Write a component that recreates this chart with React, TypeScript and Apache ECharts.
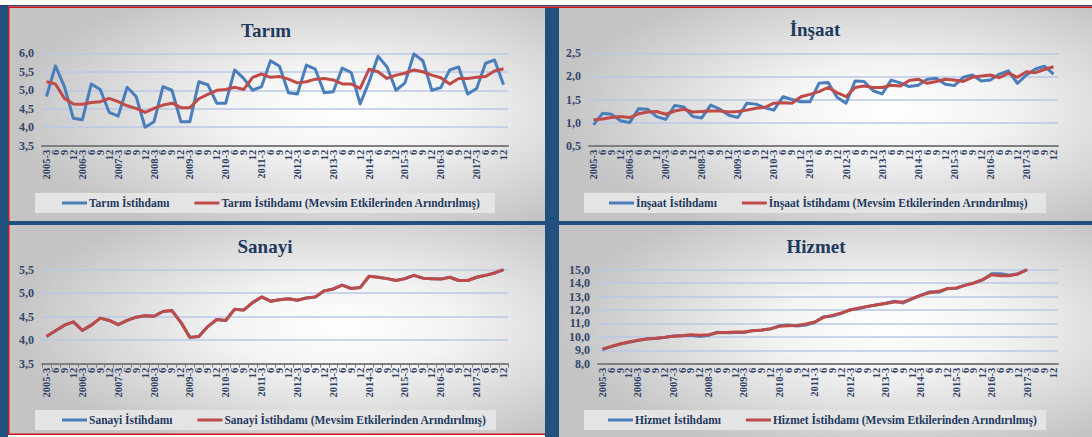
import React, { useEffect, useRef } from "react";
import * as echarts from "echarts";

const years = ["2005", "2006", "2007", "2008", "2009", "2010", "2011", "2012", "2013", "2014", "2015", "2016", "2017"];
const months = ["3", "6", "9", "12"];
const categories = years.flatMap((y) => months.map((m, i) => (i === 0 ? `${y}-${m}` : m)));

const tarimIstihdam = [4.83, 5.66, 5.1, 4.24, 4.2, 5.17, 5.02, 4.4, 4.3, 5.08, 4.83, 4.0, 4.15, 5.1, 5.0, 4.15, 4.15, 5.23, 5.15, 4.65, 4.65, 5.55, 5.32, 5.0, 5.1, 5.8, 5.65, 4.93, 4.9, 5.68, 5.57, 4.93, 4.96, 5.6, 5.48, 4.63, 5.23, 5.92, 5.63, 5.0, 5.2, 5.98, 5.8, 5.0, 5.07, 5.55, 5.63, 4.9, 5.05, 5.73, 5.82, 5.15];
const tarimMevsim = [5.23, 5.17, 4.78, 4.63, 4.62, 4.67, 4.69, 4.78, 4.69, 4.58, 4.51, 4.4, 4.51, 4.6, 4.65, 4.53, 4.53, 4.77, 4.89, 5.0, 5.02, 5.08, 5.02, 5.35, 5.44, 5.35, 5.37, 5.3, 5.2, 5.23, 5.3, 5.32, 5.28, 5.17, 5.17, 5.05, 5.57, 5.5, 5.32, 5.41, 5.46, 5.55, 5.5, 5.41, 5.34, 5.17, 5.32, 5.32, 5.35, 5.37, 5.52, 5.58];

const insaatIstihdam = [0.95, 1.2, 1.18, 1.04, 1.0, 1.3, 1.29, 1.13, 1.07, 1.37, 1.34, 1.13, 1.1, 1.38, 1.29, 1.16, 1.11, 1.42, 1.4, 1.32, 1.27, 1.56, 1.5, 1.45, 1.45, 1.85, 1.87, 1.55, 1.42, 1.9, 1.89, 1.69, 1.62, 1.92, 1.86, 1.78, 1.81, 1.94, 1.96, 1.83, 1.8, 1.98, 2.03, 1.9, 1.92, 2.05, 2.12, 1.85, 2.03, 2.16, 2.22, 2.05];
const insaatMevsim = [1.06, 1.08, 1.11, 1.13, 1.11, 1.19, 1.23, 1.24, 1.18, 1.25, 1.29, 1.23, 1.24, 1.25, 1.25, 1.23, 1.24, 1.27, 1.31, 1.33, 1.42, 1.43, 1.42, 1.56, 1.61, 1.67, 1.76, 1.65, 1.56, 1.76, 1.79, 1.76, 1.76, 1.81, 1.79, 1.91, 1.94, 1.85, 1.89, 1.94, 1.92, 1.89, 1.98, 2.01, 2.03, 1.97, 2.07, 1.98, 2.1, 2.08, 2.15, 2.21];

const sanayiIstihdam = [4.08, 4.2, 4.32, 4.39, 4.21, 4.32, 4.47, 4.42, 4.33, 4.42, 4.49, 4.52, 4.51, 4.61, 4.63, 4.38, 4.06, 4.08, 4.29, 4.44, 4.42, 4.66, 4.64, 4.8, 4.92, 4.83, 4.86, 4.88, 4.85, 4.9, 4.92, 5.05, 5.09, 5.17, 5.1, 5.12, 5.36, 5.34, 5.31, 5.27, 5.31, 5.38, 5.32, 5.31, 5.3, 5.34, 5.27, 5.27, 5.34, 5.38, 5.43, 5.5];
const sanayiMevsim = [4.08, 4.2, 4.32, 4.39, 4.21, 4.32, 4.47, 4.42, 4.33, 4.42, 4.49, 4.52, 4.51, 4.61, 4.63, 4.38, 4.06, 4.08, 4.29, 4.44, 4.42, 4.66, 4.64, 4.8, 4.92, 4.83, 4.86, 4.88, 4.85, 4.9, 4.92, 5.05, 5.09, 5.17, 5.1, 5.12, 5.36, 5.34, 5.31, 5.27, 5.31, 5.38, 5.32, 5.31, 5.3, 5.34, 5.27, 5.27, 5.34, 5.38, 5.43, 5.5];

const hizmetIstihdam = [9.05, 9.27, 9.47, 9.6, 9.72, 9.85, 9.87, 9.95, 10.06, 10.1, 10.12, 10.02, 10.12, 10.35, 10.3, 10.33, 10.32, 10.48, 10.5, 10.58, 10.82, 10.88, 10.8, 10.88, 11.08, 11.5, 11.55, 11.75, 12.02, 12.1, 12.27, 12.37, 12.5, 12.65, 12.52, 12.82, 13.1, 13.35, 13.32, 13.6, 13.62, 13.85, 14.02, 14.25, 14.7, 14.7, 14.58, 14.7, 15.0];
const hizmetMevsim = [9.09, 9.29, 9.47, 9.61, 9.74, 9.84, 9.89, 9.96, 10.04, 10.09, 10.16, 10.11, 10.16, 10.31, 10.33, 10.36, 10.36, 10.46, 10.51, 10.61, 10.78, 10.83, 10.85, 10.95, 11.1, 11.45, 11.6, 11.77, 12.0, 12.15, 12.27, 12.39, 12.49, 12.59, 12.59, 12.84, 13.09, 13.29, 13.39, 13.59, 13.64, 13.83, 14.01, 14.26, 14.63, 14.55, 14.55, 14.68, 15.0];

const sectors = ["Tarım", "İnşaat", "Sanayi", "Hizmet"];
const yMins = [3.5, 0.5, 3.5, 8];
const yMaxs = [6, 2.5, 5.5, 15];
const yIntervals = [0.5, 0.5, 0.5, 1];
const blueData = [tarimIstihdam, insaatIstihdam, sanayiIstihdam, hizmetIstihdam];
const redData = [tarimMevsim, insaatMevsim, sanayiMevsim, hizmetMevsim];

const BLUE = "#4a7ebb";
const RED = "#be4b48";
const NAVY = "#1f3a5f";
const FRAME = "#214f7e";
const SERIF = "'Liberation Serif', 'DejaVu Serif', serif";

// layout
const grids = [
  { left: 42, top: 53.3, width: 466, height: 92.4 },
  { left: 589, top: 53.3, width: 469, height: 92.4 },
  { left: 42, top: 269.7, width: 466, height: 94 },
  { left: 598, top: 269.7, width: 460, height: 94 },
];
const titlePos = [
  { x: 266, y: 21 },
  { x: 815, y: 20 },
  { x: 265, y: 237 },
  { x: 816, y: 237 },
];
const legendPos = [
  { x: 62, y: 197 },
  { x: 609, y: 197 },
  { x: 62, y: 414 },
  { x: 608, y: 414 },
];
const legendBoxes = [
  { x: 35, y: 193, w: 460, h: 20 },
  { x: 584, y: 193, w: 462, h: 20 },
  { x: 35, y: 410, w: 461, h: 20 },
  { x: 584, y: 410, w: 462, h: 20 },
];
const panels = [
  { x: 9, y: 8, w: 536, h: 213 },
  { x: 559, y: 8, w: 533, h: 213 },
  { x: 9, y: 225, w: 536, h: 210 },
  { x: 559, y: 225, w: 533, h: 212 },
];

const fmt = (v: number) => v.toFixed(1).replace(".", ",");

export default function App() {
  const ref = useRef<HTMLDivElement>(null);
  useEffect(() => {
    if (!ref.current) return;
    const chart = echarts.init(ref.current, undefined, { renderer: "svg" });

    const graphics: any[] = [];
    graphics.push({ type: "rect", z: -100, shape: { x: 0, y: 0, width: 1092, height: 437 }, style: { fill: "#ffffff" }, silent: true });
    panels.forEach((p) => {
      graphics.push({
        type: "rect",
        z: -90,
        silent: true,
        shape: { x: p.x, y: p.y, width: p.w, height: p.h },
        style: {
          fill: new echarts.graphic.RadialGradient(0.62, 0.48, 0.62, [
            { offset: 0, color: "#ffffff" },
            { offset: 0.35, color: "#f3f3f3" },
            { offset: 1, color: "#c4c4c4" },
          ]),
        },
      });
    });
    legendBoxes.forEach((b) => {
      graphics.push({ type: "rect", z: -80, silent: true, shape: { x: b.x, y: b.y, width: b.w, height: b.h }, style: { fill: "#e4e4e4" } });
    });
    // frame bars
    graphics.push({ type: "rect", z: -70, silent: true, shape: { x: 0, y: 5, width: 8, height: 432 }, style: { fill: FRAME } });
    graphics.push({ type: "rect", z: -70, silent: true, shape: { x: 545, y: 7, width: 14, height: 430 }, style: { fill: FRAME } });
    graphics.push({ type: "rect", z: -70, silent: true, shape: { x: 8, y: 221, width: 1084, height: 4 }, style: { fill: FRAME } });
    // red / navy lines
    graphics.push({ type: "rect", z: -60, silent: true, shape: { x: 0, y: 5, width: 1092, height: 1.5 }, style: { fill: "#3a3f70" } });
    graphics.push({ type: "rect", z: -60, silent: true, shape: { x: 8, y: 6.5, width: 1084, height: 1.5 }, style: { fill: "#d01818" } });
    graphics.push({ type: "rect", z: -60, silent: true, shape: { x: 8, y: 7, width: 1.5, height: 214 }, style: { fill: "#d01818" } });
    graphics.push({ type: "rect", z: -60, silent: true, shape: { x: 8, y: 225, width: 1.5, height: 210 }, style: { fill: "#d01818" } });
    graphics.push({ type: "rect", z: -60, silent: true, shape: { x: 8, y: 433.5, width: 537, height: 1.5 }, style: { fill: "#d01818" } });

    const option: any = {
      animation: false,
      graphic: { elements: graphics },
      title: sectors.map((s, i) => ({
        text: s,
        left: titlePos[i].x,
        top: titlePos[i].y,
        textAlign: "center",
        padding: 0,
        textStyle: { fontFamily: SERIF, fontWeight: "bold", fontSize: 19, color: NAVY },
      })),
      legend: sectors.map((s, i) => ({
        data: [`${s} İstihdamı`, `${s} İstihdamı (Mevsim Etkilerinden Arındırılmış)`],
        left: legendPos[i].x,
        top: legendPos[i].y,
        padding: 0,
        itemGap: 25,
        itemWidth: 25,
        itemHeight: 3,
        icon: "rect",
        textStyle: { fontFamily: SERIF, fontWeight: "bold", fontSize: 11.5, color: NAVY, padding: [0, 0, 0, -3] },
      })),
      grid: grids.map((g) => ({ ...g })),
      xAxis: sectors.map((_, i) => ({
        type: "category",
        gridIndex: i,
        data: categories,
        boundaryGap: true,
        axisLine: { show: true, lineStyle: { color: "#7f7f7f", width: 2 } },
        axisTick: { show: i === 2, length: 4, interval: 0, lineStyle: { color: "#7f7f7f" } },
        axisLabel: {
          interval: 0,
          rotate: 90,
          margin: 4,
          fontFamily: SERIF,
          fontWeight: "bold",
          fontSize: 10.5,
          color: "#2e4166",
        },
      })),
      yAxis: sectors.map((_, i) => ({
        type: "value",
        gridIndex: i,
        min: yMins[i],
        max: yMaxs[i],
        interval: yIntervals[i],
        axisLine: { show: false },
        axisTick: { show: false },
        axisLabel: {
          formatter: fmt,
          margin: 8,
          fontFamily: SERIF,
          fontWeight: "bold",
          fontSize: 12,
          color: "#34466c",
        },
        splitLine: { show: true, lineStyle: { color: "#bac8e6", width: 1.5 } },
      })),
      series: sectors.flatMap((s, i) => [
        {
          name: `${s} İstihdamı`,
          type: "line",
          xAxisIndex: i,
          yAxisIndex: i,
          data: blueData[i],
          showSymbol: false,
          symbol: "none",
          color: BLUE,
          lineStyle: { color: BLUE, width: 3, join: "round" },
        },
        {
          name: `${s} İstihdamı (Mevsim Etkilerinden Arındırılmış)`,
          type: "line",
          xAxisIndex: i,
          yAxisIndex: i,
          data: redData[i],
          showSymbol: false,
          symbol: "none",
          color: RED,
          lineStyle: { color: RED, width: 3, join: "round" },
        },
      ]),
    };
    chart.setOption(option);
    return () => chart.dispose();
  }, []);
  return (
    <div style={{ position: "absolute", left: 0, top: 0, width: 1092, height: 437 }}>
      <div ref={ref} style={{ width: 1092, height: 437 }} />
    </div>
  );
}
